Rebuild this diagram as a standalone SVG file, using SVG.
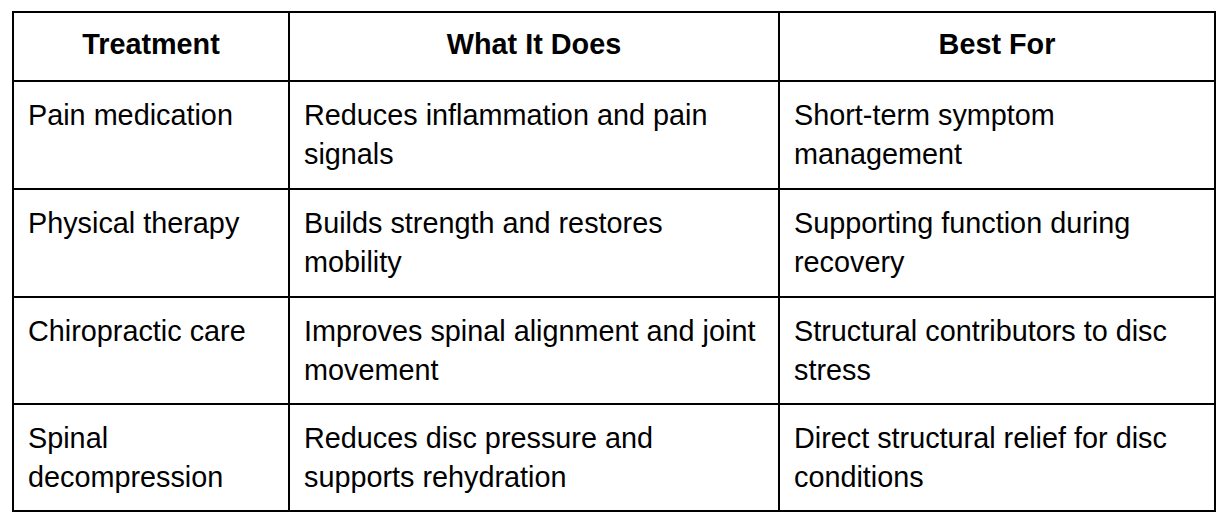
<svg xmlns="http://www.w3.org/2000/svg" width="1228" height="522" viewBox="0 0 1228 522">
<style>
.g line{stroke:#000;stroke-width:2}
text{font-family:"Liberation Sans",Arial,sans-serif;font-size:28.8px;fill:#000}
.h{font-weight:bold;text-anchor:middle}
</style>
<rect width="1228" height="522" fill="#fff"/>
<g id="grid" class="g">
<rect x="13" y="12" width="1202" height="499" fill="none" stroke="#000" stroke-width="2"/>
<line x1="289" y1="12" x2="289" y2="511"/>
<line x1="779" y1="12" x2="779" y2="511"/>
<line x1="13" y1="81" x2="1215" y2="81"/>
<line x1="13" y1="189" x2="1215" y2="189"/>
<line x1="13" y1="297" x2="1215" y2="297"/>
<line x1="13" y1="404" x2="1215" y2="404"/>
</g>
<g id="header">
<text class="h" x="151" y="54">Treatment</text>
<text class="h" x="534" y="54">What It Does</text>
<text class="h" x="997" y="54">Best For</text>
</g>
<g id="row1">
<text x="28" y="125">Pain medication</text>
<text x="304" y="125">Reduces inflammation and pain</text>
<text x="304" y="164">signals</text>
<text x="794" y="125">Short-term symptom</text>
<text x="794" y="164">management</text>
</g>
<g id="row2">
<text x="28" y="233">Physical therapy</text>
<text x="304" y="233">Builds strength and restores</text>
<text x="304" y="272">mobility</text>
<text x="794" y="233">Supporting function during</text>
<text x="794" y="272">recovery</text>
</g>
<g id="row3">
<text x="28" y="341">Chiropractic care</text>
<text x="304" y="341">Improves spinal alignment and joint</text>
<text x="304" y="380">movement</text>
<text x="794" y="341">Structural contributors to disc</text>
<text x="794" y="380">stress</text>
</g>
<g id="row4">
<text x="28" y="448">Spinal</text>
<text x="28" y="487">decompression</text>
<text x="304" y="448">Reduces disc pressure and</text>
<text x="304" y="487">supports rehydration</text>
<text x="794" y="448">Direct structural relief for disc</text>
<text x="794" y="487">conditions</text>
</g>
</svg>
